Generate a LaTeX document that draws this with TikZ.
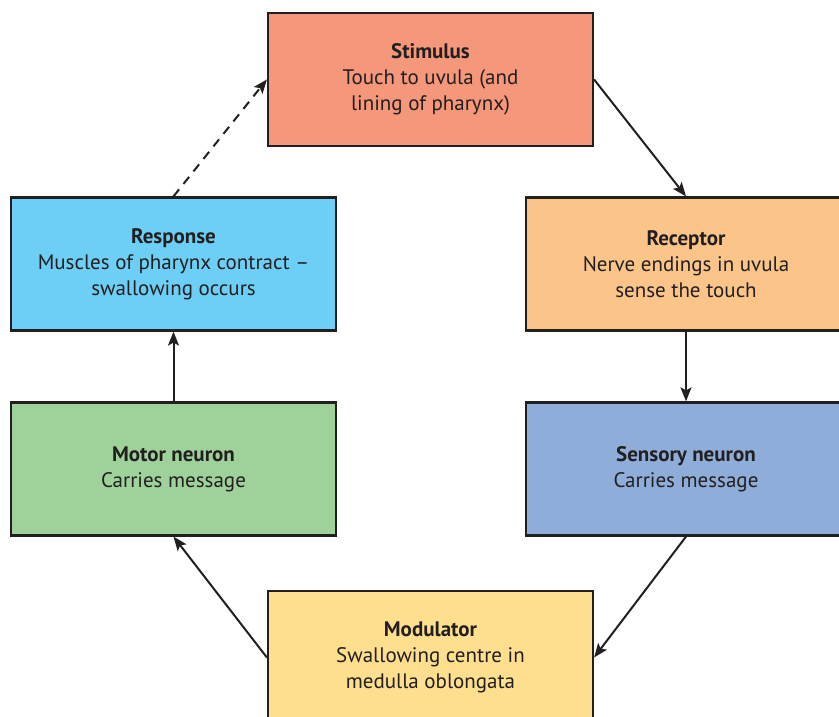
\documentclass[tikz,border=0pt]{standalone}
\usepackage{fontspec}
\setmainfont{PT Sans}
\usepackage{xcolor}
\usepackage{tikz}
\usetikzlibrary{arrows.meta,positioning}
\definecolor{stimcol}{HTML}{F4977A}
\definecolor{reccol}{HTML}{FBC58A}
\definecolor{sensecol}{HTML}{8FADD9}
\definecolor{modcol}{HTML}{FDDF8E}
\definecolor{motcol}{HTML}{9FD29B}
\definecolor{respcol}{HTML}{6DCFF6}
\definecolor{inkcol}{HTML}{231F20}
\tikzset{
    stage/.style={rectangle, draw=inkcol, line width=2.2pt, minimum width=325pt, minimum height=133pt, align=center, text=inkcol, font=\fontsize{21}{26}\selectfont, inner sep=0pt},
    flow/.style={-{Stealth[length=14pt, width=11pt, inset=3pt]}, line width=2pt, draw=inkcol},
    feedback/.style={flow, dash pattern=on 9pt off 7pt},
}

\begin{document}
\begin{tikzpicture}[x=1pt, y=-1pt]
    \useasboundingbox (0,0) rectangle (839,717);
    \node[stage, fill=stimcol] (stimulus) at (430.5,79.5) {\textbf{Stimulus} \\ Touch to uvula (and \\ lining of pharynx)};
    \node[stage, fill=reccol, minimum width=320pt] (receptor) at (686,264) {\textbf{Receptor} \\ Nerve endings in uvula \\ sense the touch};
    \node[stage, fill=sensecol, minimum width=320pt] (sensory) at (686,469) {\textbf{Sensory neuron} \\ Carries message};
    \node[stage, fill=modcol] (modulator) at (430.5,657.5) {\textbf{Modulator} \\ Swallowing centre in \\ medulla oblongata};
    \node[stage, fill=motcol] (motor) at (173.5,469) {\textbf{Motor neuron} \\ Carries message};
    \node[stage, fill=respcol] (response) at (173.5,264) {\textbf{Response} \\ Muscles of pharynx contract – \\ swallowing occurs};

    \draw[flow] (stimulus.east) -- (receptor.north);
    \draw[flow] (receptor.south) -- (sensory.north);
    \draw[flow] (sensory.south) -- (modulator.east);
    \draw[flow] (modulator.west) -- (motor.south);
    \draw[flow] (motor.north) -- (response.south);
    \draw[feedback] (response.north) -- (stimulus.west);
\end{tikzpicture}
\end{document}
